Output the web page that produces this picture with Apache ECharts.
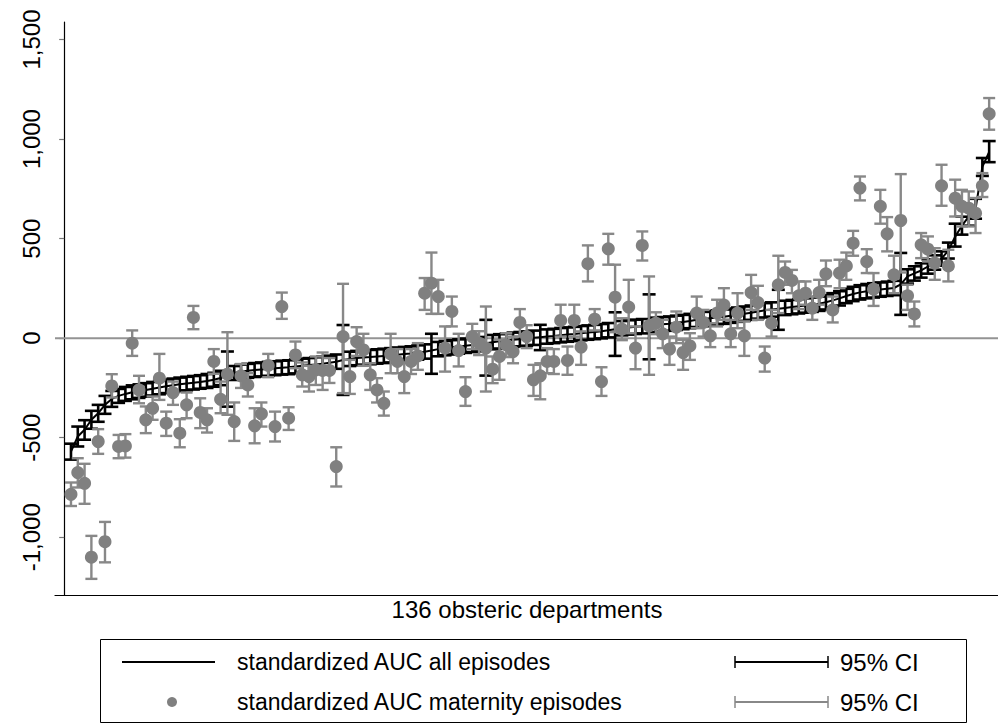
<!DOCTYPE html>
<html>
<head>
<meta charset="utf-8">
<script src="https://cdn.jsdelivr.net/npm/echarts@6/dist/echarts.min.js"></script>
<style>
html,body{margin:0;padding:0;background:#fff;}
#chart{width:998px;height:726px;}
</style>
</head>
<body>
<div id="chart"></div>
<script>
// ---- data (department index 1..136, sorted by AUC of all episodes) ----
var allAuc = [-570,-494,-460,-410,-377,-335,-305,-290,-280,-272,
-266,-260,-254,-248,-242,-237,-232,-228,-224,-220,
-215,-209,-200,-185,-175,-168,-164,-160,-157,-154,
-151,-148,-146,-142,-138,-135,-132,-128,-124,-118,
-110,-104,-100,-97,-95,-92,-89,-86,-83,-80,
-77,-72,-68,-62,-55,-50,-46,-42,-38,-34,
-30,-26,-20,-16,-12,-8,-5,-2,2,5,
8,11,15,18,21,25,28,31,35,40,
45,50,54,57,60,63,67,70,73,77,
81,86,92,96,100,104,108,113,118,123,
128,134,140,144,148,152,156,160,164,168,
173,180,190,200,212,222,230,236,240,244,
248,252,270,310,325,340,360,380,400,440,
510,565,610,650,860,935];
var allLo = [-610,-544,-510,-455,-420,-380,-345,-325,-315,-307,
-300,-294,-288,-282,-276,-271,-266,-262,-258,-254,
-250,-244,-236,-344,-210,-203,-199,-195,-192,-189,
-186,-183,-181,-177,-173,-170,-168,-164,-160,-154,
-285,-140,-136,-133,-131,-128,-125,-122,-119,-116,
-113,-108,-103,-179,-91,-86,-82,-78,-74,-70,
-66,-188,-56,-52,-48,-44,-41,-38,-34,-60,
-28,-25,-21,-18,-15,-11,-8,-5,-1,4,
-89,14,18,21,24,-106,31,34,37,41,
45,50,56,60,64,68,72,77,82,87,
92,98,104,108,42,116,120,124,128,132,
137,144,154,164,176,186,194,200,204,208,
212,216,117,274,289,304,324,344,364,400,
460,520,565,600,815,884];
var allHi = [-530,-444,-412,-365,-335,-290,-265,-255,-245,-237,
-232,-226,-220,-214,-208,-203,-198,-194,-190,-186,
-180,-174,-164,-67,-140,-133,-129,-125,-122,-119,
-116,-113,-111,-107,-103,-100,-96,-92,-88,-82,
66,-68,-64,-61,-59,-56,-53,-50,-47,-44,
-41,-36,-31,22,-19,-14,-10,-6,-2,2,
6,92,16,20,24,28,31,34,38,67,
44,47,51,54,57,61,64,67,71,76,
130,86,90,93,96,220,103,106,109,113,
117,122,128,132,136,140,144,149,154,159,
164,170,176,180,243,188,192,196,200,204,
209,216,226,236,248,258,266,272,276,280,
284,288,428,346,361,376,396,416,436,480,
575,610,655,700,905,990];

var matAuc = [-784,-675,-729,-1100,-519,-1022,-240,-544,-541,-25,
-260,-410,-352,-201,-427,-273,-477,-335,104,-373,
-410,-117,-307,-181,-419,-189,-235,-440,-380,-137,
-444,159,-402,-84,-184,-193,-159,-162,-162,-645,
8,-193,-17,-59,-184,-260,-327,-79,-117,-193,
-117,-89,226,276,209,-50,134,-62,-268,8,
-25,-50,-156,-92,-34,-67,79,8,-209,-189,
-117,-117,89,-112,89,-45,374,95,-218,449,
206,45,156,-50,466,62,75,22,-55,55,
-72,-39,126,79,12,126,166,22,126,12,
229,179,-100,75,268,330,290,213,226,151,
229,323,142,327,363,477,754,385,246,662,
524,318,591,213,122,469,447,377,765,363,
703,662,653,628,765,1127];
var matLo = [-843,-750,-832,-1209,-581,-1126,-298,-603,-600,-89,
-327,-477,-410,-310,-491,-335,-548,-402,45,-452,
-474,-179,-377,-385,-516,-250,-293,-528,-444,-196,
-519,97,-461,-151,-243,-268,-235,-260,-225,-745,
-276,-280,-89,-139,-260,-323,-389,-176,-176,-276,
-180,-159,142,122,122,-168,59,-142,-340,-55,
-85,-268,-226,-209,-95,-126,8,-50,-290,-307,
-176,-180,8,-184,8,-134,285,39,-290,369,
30,-10,25,-156,390,-184,20,-50,-134,-25,
-159,-109,50,8,-45,59,92,-45,50,-89,
142,92,-168,8,126,268,226,146,168,92,
168,261,79,251,293,414,692,327,162,575,
436,226,330,142,59,402,385,293,665,285,
611,561,561,528,709,1047];
var matHi = [-725,-603,-631,-993,-457,-923,-181,-486,-482,39,
-189,-343,-293,-79,-369,-218,-407,-273,162,-302,
-352,-55,-218,30,-323,-130,-176,-352,-323,-79,
-369,229,-347,-17,-122,-139,-92,-72,-100,-548,
273,-109,55,22,-126,-201,-268,22,-55,-122,
-55,-25,302,430,293,59,209,22,-196,72,
35,159,-92,-8,25,8,146,65,-134,-126,
-50,-55,168,-42,168,34,466,146,-146,524,
369,100,293,59,536,310,130,92,8,134,
-8,25,209,142,75,193,251,92,226,84,
318,263,-42,142,414,385,343,285,285,209,
293,390,209,394,430,539,812,447,327,745,
608,414,824,268,184,528,511,452,871,444,
796,745,737,704,829,1206];

var yTicks = [-1000, -500, 0, 500, 1000, 1500];
var xTitle = '136 obsteric departments';
var legendLabels = ['standardized AUC all episodes', 'standardized AUC maternity episodes', '95% CI', '95% CI'];

// ---- build ----
var BLACK = '#000000', GRAY = '#808080', GRAYCI = '#888888';
var FONT = '"Liberation Sans", Arial, Helvetica, sans-serif';
var FS = 23;

function build(vals, lo, hi) {
  var line = [], ci = [];
  for (var i = 0; i < vals.length; i++) {
    line.push([i + 1, vals[i]]);
    ci.push([i + 1, lo[i], hi[i]]);
  }
  return {line: line, ci: ci};
}
var A = build(allAuc, allLo, allHi);
var M = build(matAuc, matLo, matHi);

function errRender(color, cap, lw) {
  return function (params, api) {
    var x = api.value(0);
    var pLo = api.coord([x, api.value(1)]);
    var pHi = api.coord([x, api.value(2)]);
    var st = {stroke: color, lineWidth: lw};
    return {
      type: 'group',
      children: [
        {type: 'line', shape: {x1: pLo[0], y1: pLo[1], x2: pHi[0], y2: pHi[1]}, style: st},
        {type: 'line', shape: {x1: pLo[0] - cap, y1: pLo[1], x2: pLo[0] + cap, y2: pLo[1]}, style: st},
        {type: 'line', shape: {x1: pHi[0] - cap, y1: pHi[1], x2: pHi[0] + cap, y2: pHi[1]}, style: st}
      ]
    };
  };
}

function fmt(v) {
  var s = Math.abs(v).toString().replace(/\B(?=(\d{3})+(?!\d))/g, ',');
  return (v < 0 ? '-' : '') + s;
}

var chart = echarts.init(document.getElementById('chart'), null, {renderer: 'svg'});
var option = {
  animation: false,
  backgroundColor: '#fff',
  grid: {left: 55, right: 0, top: 22, bottom: 131, containLabel: false},
  xAxis: {
    type: 'value', min: -1.35, max: 137.3,
    axisLine: {show: true, onZero: false, lineStyle: {color: '#000', width: 1.2}},
    axisTick: {show: false}, axisLabel: {show: false}, splitLine: {show: false}
  },
  yAxis: {
    type: 'value', min: -1290, max: 1588,
    axisLine: {show: true, lineStyle: {color: '#000', width: 1.2}},
    axisTick: {show: true, length: 5, customValues: yTicks, lineStyle: {color: '#777', width: 1.2}},
    axisLabel: {
      show: true, customValues: yTicks, rotate: 90, margin: 12,
      fontFamily: FONT, fontSize: 24, color: '#000',
      formatter: function (v) { return fmt(v); }
    },
    splitLine: {show: false}
  },
  series: [
    {
      type: 'line', data: [[-1.35, 0], [137.3, 0]], symbol: 'none', silent: true,
      lineStyle: {color: '#939393', width: 2}, z: 1
    },
    {
      type: 'custom', data: A.ci, encode: {x: 0, y: [1, 2]},
      renderItem: errRender(BLACK, 6.5, 2.6), z: 2
    },
    {
      type: 'line', data: A.line, symbol: 'none',
      lineStyle: {color: BLACK, width: 2}, z: 3
    },
    {
      type: 'custom', data: M.ci, encode: {x: 0, y: [1, 2]},
      renderItem: errRender(GRAYCI, 6, 2.4), z: 4
    },
    {
      type: 'scatter', data: M.line, symbol: 'circle', symbolSize: 13,
      itemStyle: {color: GRAY, opacity: 1}, z: 5
    }
  ],
  graphic: [
    {type: 'text', x: 527, y: 609, style: {text: xTitle, font: '24px ' + FONT, fill: '#000', align: 'center', verticalAlign: 'middle'}},
    {type: 'rect', shape: {x: 100.5, y: 639.5, width: 866, height: 83}, style: {fill: 'none', stroke: '#000', lineWidth: 1}},
    {type: 'line', shape: {x1: 122, y1: 662, x2: 215, y2: 662}, style: {stroke: BLACK, lineWidth: 2}},
    {type: 'text', x: 237, y: 662, style: {text: legendLabels[0], font: FS + 'px ' + FONT, fill: '#000', verticalAlign: 'middle'}},
    {type: 'circle', shape: {cx: 172, cy: 702, r: 5}, style: {fill: GRAY}},
    {type: 'text', x: 237, y: 702, style: {text: legendLabels[1], font: FS + 'px ' + FONT, fill: '#000', verticalAlign: 'middle'}},
    {type: 'line', shape: {x1: 735, y1: 662, x2: 828, y2: 662}, style: {stroke: BLACK, lineWidth: 2}},
    {type: 'line', shape: {x1: 735, y1: 656, x2: 735, y2: 668}, style: {stroke: BLACK, lineWidth: 1.5}},
    {type: 'line', shape: {x1: 828, y1: 656, x2: 828, y2: 668}, style: {stroke: BLACK, lineWidth: 1.5}},
    {type: 'text', x: 840, y: 662, style: {text: legendLabels[2], font: '24px ' + FONT, fill: '#000', verticalAlign: 'middle'}},
    {type: 'line', shape: {x1: 735, y1: 702, x2: 828, y2: 702}, style: {stroke: GRAYCI, lineWidth: 2}},
    {type: 'line', shape: {x1: 735, y1: 696, x2: 735, y2: 708}, style: {stroke: GRAYCI, lineWidth: 1.5}},
    {type: 'line', shape: {x1: 828, y1: 696, x2: 828, y2: 708}, style: {stroke: GRAYCI, lineWidth: 1.5}},
    {type: 'text', x: 840, y: 702, style: {text: legendLabels[3], font: '24px ' + FONT, fill: '#000', verticalAlign: 'middle'}}
  ]
};
chart.setOption(option);
</script>
</body>
</html>
